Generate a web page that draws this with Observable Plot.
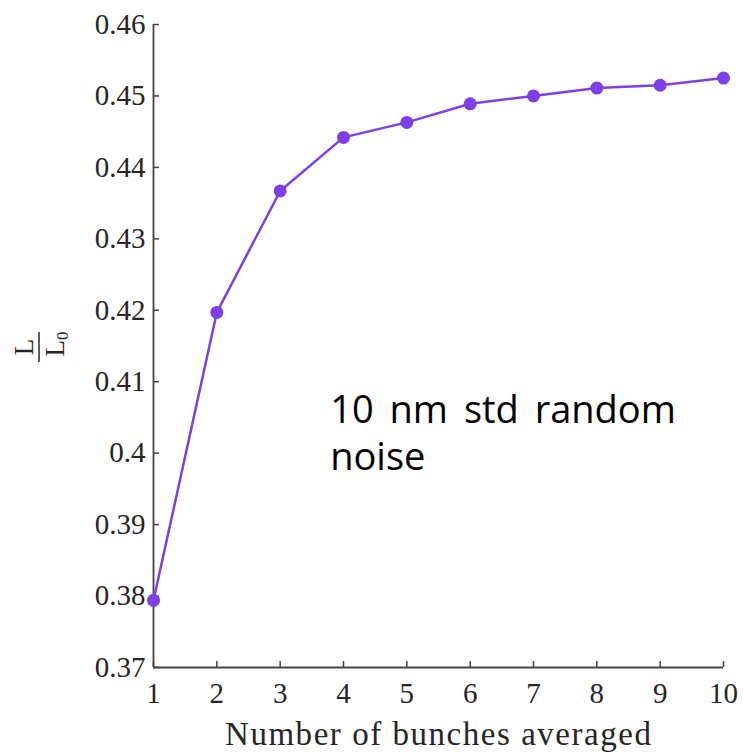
<!DOCTYPE html>
<html>
<head>
<meta charset="utf-8">
<script src="https://cdn.jsdelivr.net/npm/d3@7"></script>
<script src="https://cdn.jsdelivr.net/npm/@observablehq/plot@0.6"></script>
<style>
  html, body { margin: 0; padding: 0; background: #fff; }
  #chart { width: 743px; height: 752px; }
</style>
</head>
<body>
<div id="chart"></div>
<script>
const bunches = [1, 2, 3, 4, 5, 6, 7, 8, 9, 10];
const ratio = [0.3794, 0.4197, 0.4367, 0.4442, 0.4463, 0.4489, 0.4500, 0.4511, 0.4515, 0.4525];
const xTicks = [1, 2, 3, 4, 5, 6, 7, 8, 9, 10];
const yTicks = [0.37, 0.38, 0.39, 0.40, 0.41, 0.42, 0.43, 0.44, 0.45, 0.46];
const yTickLabels = ["0.37", "0.38", "0.39", "0.4", "0.41", "0.42", "0.43", "0.44", "0.45", "0.46"];
const annotation = ["10 nm std random\nnoise"];

const data = bunches.map((b, i) => ({x: b, y: ratio[i]}));
const purple = "#7f3fe6";
const axisColor = "#444";
const serif = "'Liberation Serif', 'DejaVu Serif', serif";

const plot = Plot.plot({
  width: 743,
  height: 752,
  marginLeft: 153,
  marginRight: 20,
  marginTop: 24,
  marginBottom: 85,
  style: {fontFamily: serif, background: "#fff"},
  x: {domain: [1, 10]},
  y: {domain: [0.37, 0.46]},
  marks: [
    Plot.ruleX([1], {stroke: axisColor, strokeWidth: 1.8}),
    Plot.ruleY([0.37], {stroke: axisColor, strokeWidth: 1.8}),
    Plot.axisY(yTicks, {
      tickSize: -6, tickPadding: 14, fontSize: 29, color: "#262626", stroke: axisColor,
      strokeWidth: 1.5, tickFormat: (d, i) => yTickLabels[i], label: null
    }),
    Plot.axisX(xTicks, {
      tickSize: -6, tickPadding: 21, fontSize: 29, color: "#262626", stroke: axisColor,
      strokeWidth: 1.5, label: null
    }),
    Plot.line(data, {x: "x", y: "y", stroke: purple, strokeWidth: 2.5}),
    Plot.dot(data, {x: "x", y: "y", fill: purple, r: 6.5}),
    Plot.text(annotation, {
      x: 3.79, y: 0.39758, text: d => d, textAnchor: "start", lineAnchor: "bottom",
      fontSize: 38, lineHeight: 1.24, fill: "#000",
      fontFamily: "'Open Sans', Lato, sans-serif"
    })
  ]
});

const svg = d3.select(plot);
// widen word spacing of annotation to match reference
svg.selectAll('g[aria-label="text"] text').style("word-spacing", "6px");
// x-axis title
svg.append("text")
  .attr("x", 438).attr("y", 745)
  .attr("text-anchor", "middle")
  .attr("font-family", serif).attr("font-size", 33).attr("fill", "#262626")
  .attr("textLength", 426).attr("lengthAdjust", "spacing")
  .text("Number of bunches averaged");
// y-axis title: L / L0 fraction, rotated
const g = svg.append("g").attr("transform", "translate(39,347) rotate(-90)");
g.append("text").attr("x", 0).attr("y", -6).attr("text-anchor", "middle")
  .attr("font-family", serif).attr("font-size", 27).attr("fill", "#262626").text("L");
g.append("line").attr("x1", -15).attr("x2", 15).attr("y1", 0).attr("y2", 0)
  .attr("stroke", "#262626").attr("stroke-width", 1.5);
const den = g.append("text").attr("x", 3).attr("y", 25).attr("text-anchor", "middle")
  .attr("font-family", serif).attr("font-size", 27).attr("fill", "#262626");
den.append("tspan").text("L");
den.append("tspan").attr("font-size", 17).attr("dy", 4).text("0");

document.getElementById("chart").appendChild(plot);
</script>
</body>
</html>
